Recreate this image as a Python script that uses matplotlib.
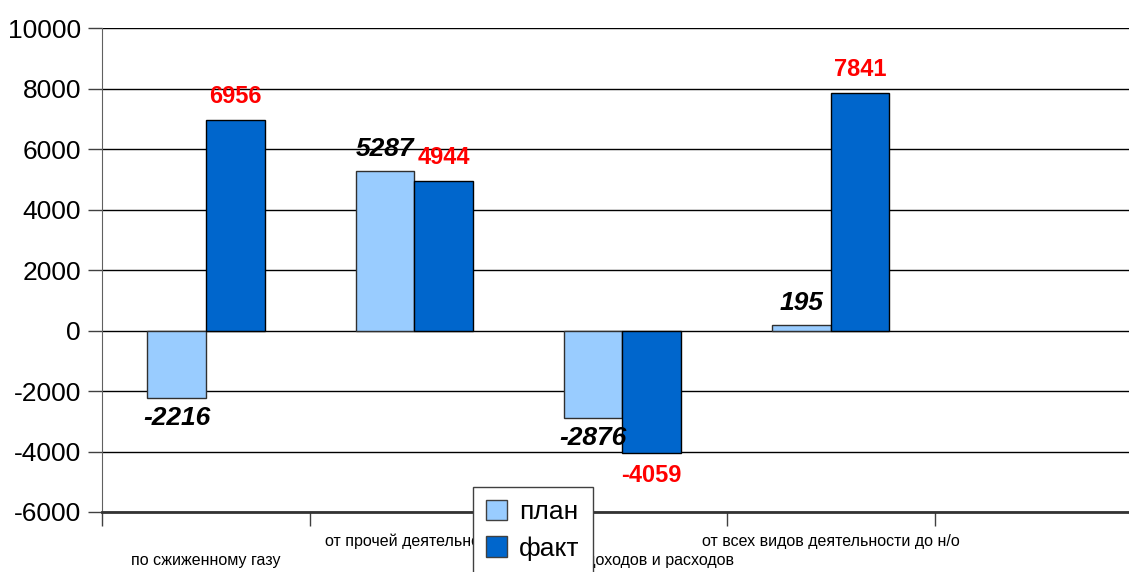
import numpy as np
import matplotlib
matplotlib.use("Agg")
import matplotlib.pyplot as plt
from matplotlib.patches import Patch
from matplotlib.ticker import FixedLocator

plt.rcParams["font.family"] = ["Liberation Sans", "DejaVu Sans"]
plt.rcParams["axes.unicode_minus"] = False

categories = [
    "по сжиженному газу",
    "от прочей деятельности",
    "от прочих доходов и расходов",
    "от всех видов деятельности до н/о",
    "",
]
plan = [-2216, 5287, -2876, 195]
fact = [6956, 4944, -4059, 7841]

PLAN_COLOR = "#99CCFF"
FACT_COLOR = "#0066CC"


def main():
    fig = plt.figure(figsize=(11.29, 5.72), dpi=100)
    ax = fig.add_axes([0.0903, 0.1049, 0.922, 0.846])

    centers = np.arange(len(plan)) + 0.5
    w = 0.282
    ax.bar(centers - w / 2, plan, width=w, color=PLAN_COLOR,
           edgecolor="#303030", linewidth=1, zorder=3)
    ax.bar(centers + w / 2, fact, width=w, color=FACT_COLOR,
           edgecolor="black", linewidth=1, zorder=3)

    for x, v in zip(centers - w / 2, plan):
        off = 7 if v >= 0 else -6
        ax.annotate(f"{v}", (x, v), xytext=(0, off), textcoords="offset points",
                    ha="center", va="bottom" if v >= 0 else "top",
                    fontsize=19, fontweight="bold", fontstyle="italic",
                    color="black", zorder=4)
    for x, v in zip(centers + w / 2, fact):
        off = 9 if v >= 0 else -8
        ax.annotate(f"{v}", (x, v), xytext=(0, off), textcoords="offset points",
                    ha="center", va="bottom" if v >= 0 else "top",
                    fontsize=17, fontweight="bold", color="red", zorder=4)

    ax.set_xlim(0, len(categories))
    ax.set_ylim(-6000, 10000)
    ax.set_yticks(np.arange(-6000, 10001, 2000))
    ax.tick_params(axis="y", labelsize=19, length=10, width=1,
                   color="#404040", pad=5)
    ax.yaxis.grid(True, color="black", linewidth=1)
    ax.set_axisbelow(True)

    ax.xaxis.set_major_locator(FixedLocator(np.arange(0, len(categories) + 1)))
    ax.set_xticklabels([])
    ax.tick_params(axis="x", length=10, width=1, color="#404040")

    for i, name in enumerate(categories):
        y = -0.061 if i % 2 == 1 else -0.101
        ax.text(i + 0.5, y, name, transform=ax.get_xaxis_transform(),
                ha="center", va="center", fontsize=11.5, clip_on=False)

    for side in ["top", "right"]:
        ax.spines[side].set_visible(False)
    ax.spines["left"].set_color("#606060")
    ax.spines["bottom"].set_color("#333333")
    ax.spines["bottom"].set_linewidth(2)

    handles = [
        Patch(facecolor=PLAN_COLOR, edgecolor="#404040", label="план"),
        Patch(facecolor=FACT_COLOR, edgecolor="#404040", label="факт"),
    ]
    leg = fig.legend(handles=handles, loc="upper left",
                     bbox_to_anchor=(0.419, 0.149), fontsize=19,
                     frameon=True, fancybox=False, framealpha=1,
                     edgecolor="#404040", handlelength=0.8, handleheight=0.8,
                     handletextpad=0.45, labelspacing=0.45, borderpad=0.5,
                     borderaxespad=0)
    leg.get_frame().set_linewidth(1)
    leg.set_zorder(10)

    fig.savefig("out.png", dpi=100)


if __name__ == "__main__":
    main()
